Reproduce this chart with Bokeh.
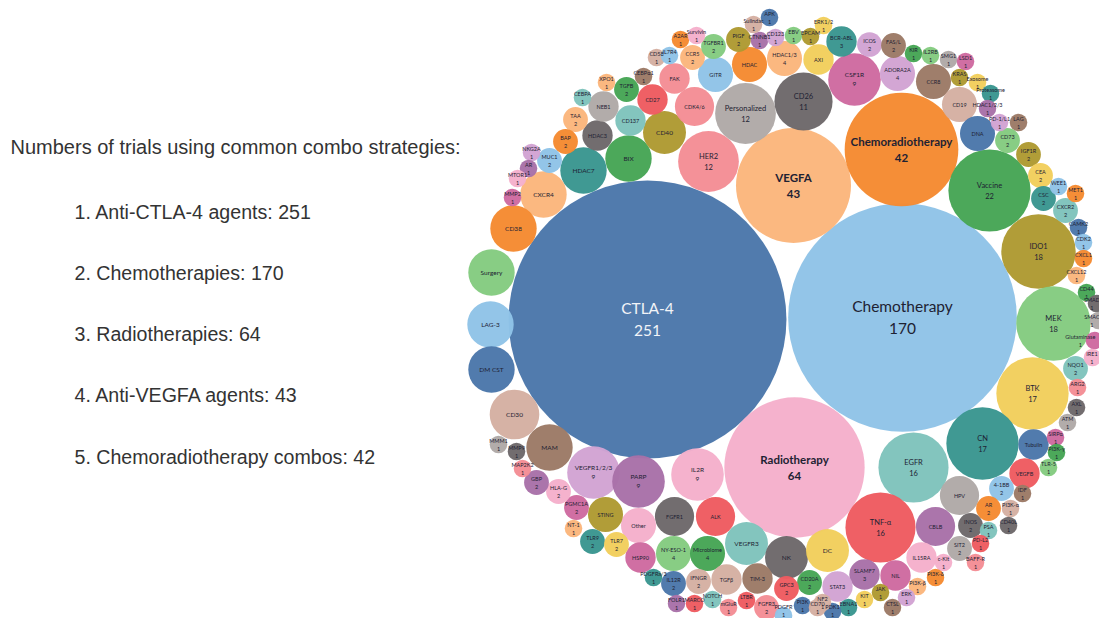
from bokeh.plotting import figure
from bokeh.models import ColumnDataSource, Range1d, Label
from bokeh.core.properties import value
from bokeh.embed import file_html
from bokeh.resources import INLINE
import math

heading = "Numbers of trials using common combo strategies:"
strategies = ["1. Anti-CTLA-4 agents: 251", "2. Chemotherapies: 170", "3. Radiotherapies: 64",
              "4. Anti-VEGFA agents: 43", "5. Chemoradiotherapy combos: 42"]
strategy_rows = [211, 272, 333, 394, 456]

palette = {"b": "#4B77AA", "lb": "#8FC3E7", "o": "#F58A31", "lo": "#FBB67C", "g": "#46A555",
           "lg": "#84CB80", "ol": "#AE9A32", "y": "#F2CE5C", "t": "#3A9690", "lt": "#7FC3BC",
           "r": "#EE5B60", "s": "#F48D95", "gy": "#6D686A", "lgy": "#B0A9A7", "m": "#CE6AA0",
           "p": "#F5AFCB", "pu": "#A871A8", "lpu": "#D2A3D3", "br": "#9C7A66", "lbr": "#D5AFA2"}

names = ["CTLA-4", "Chemotherapy", "Radiotherapy", "VEGFA", "Chemoradiotherapy", "HER2", "Personalized", "CD26", "Vaccine", "IDO1",
         "MEK", "BTK", "CN", "EGFR", "TNF-α", "VEGFR1/2/3", "PARP", "IL2R", "CSF1R", "CD30",
         "CXCR4", "CD38", "Surgery", "LAG-3", "DM CST", "MAM", "BIX", "HDAC7", "CD40", "VEGFR3",
         "NK", "DC", "FGFR1", "ALK", "HPV", "CBLB", "CDK4/6", "Other", "STING", "NY-ESO-1",
         "Microbiome", "ADORA2A", "CCR8", "CD19", "DNA", "HDAC", "HDAC1/3", "GITR", "FAK", "CD27",
         "CD137", "HDAC3", "NEB1", "AXI", "BCR-ABL", "HSP90", "TGFβ", "TIM-3", "SLAMF7", "NIL",
         "STAT3", "IL15RA", "Tubulin", "VEGFB", "ICOS", "FAS/L", "CCR5", "TGFBR1", "PIGF", "TGFB",
         "TAA", "BAP", "MUC1", "CD73", "IGF1R", "CEA", "CSC", "CXCR2", "NQO1", "4-1BB",
         "AR", "INOS", "SIT2", "CD20A", "GPC3", "FGFR3", "IFNGR", "IL12R", "TLR9", "TLR7",
         "PGMC1A", "HLA-G", "GBP", "XPO1", "CEBPA", "NKG2A", "AR", "MTOR1", "MMP2", "CD58",
         "CEBPα1", "IL7R4", "A2AR", "Survivin", "CTNNB1", "Sulindac", "APK", "CD123", "EBV", "EPCAM",
         "ERK1/2", "KIR", "IL2RB", "SMG1", "LSD1", "KRAS", "Exosome", "Proteasome", "HDAC1/2/3", "PD-1/L1",
         "LAG", "WEE1", "MET1", "CAMK2", "CDK2", "CXCL1", "CXCL12", "CD44", "SMAD", "Glutaminase",
         "IRE1", "ARG2", "AXL", "ATM", "SIRPα", "PI3K-γ", "TLR-5", "IDF", "PI3K-α", "CD40L",
         "PSA", "PD-L2", "BAFF-R", "c-Kit", "PI3K-δ", "PI3K-β", "JAK", "KIT", "ERK", "CTSL",
         "EBNA1", "PDK1", "NF2", "PI3K", "CD70", "PDGFR", "LTBR", "mGluR", "NOTCH", "MARCO",
         "FOLR1", "PDGFRa/3", "MAP2K2", "MMP9", "MMM1", "NT-1", "SMAC"]

counts = [251, 170, 64, 43, 42, 12, 12, 11, 22, 18,
          18, 17, 17, 16, 16, 9, 9, 9, 9, 8,
          7, 7, 7, 7, 7, 7, 7, 7, 6, 6,
          6, 6, 5, 5, 5, 5, 5, 4, 4, 4,
          4, 4, 4, 4, 4, 4, 4, 4, 3, 3,
          3, 3, 3, 3, 3, 3, 3, 3, 3, 3,
          3, 3, 3, 3, 2, 2, 2, 2, 2, 2,
          2, 2, 2, 2, 2, 2, 2, 2, 2, 2,
          2, 2, 2, 2, 2, 2, 2, 2, 2, 2,
          2, 2, 2, 1, 1, 1, 1, 1, 1, 1,
          1, 1, 1, 1, 1, 1, 1, 1, 1, 1,
          1, 1, 1, 1, 1, 1, 1, 1, 1, 1,
          1, 1, 1, 1, 1, 1, 1, 1, 1, 1,
          1, 1, 1, 1, 1, 1, 1, 1, 1, 1,
          1, 1, 1, 1, 1, 1, 1, 1, 1, 1,
          1, 1, 1, 1, 1, 1, 1, 1, 1, 1,
          1, 1, 1, 1, 1, 1, 1]

bubble_x = [647, 902, 794, 793, 901, 708, 745, 803, 989, 1038,
            1053, 1032, 982, 913, 880, 593, 638, 697, 854, 514,
            543, 513, 491, 490, 491, 549, 628, 583, 664, 746,
            786, 827, 674, 715, 959, 935, 694, 638, 605, 673,
            707, 897, 933, 959, 977, 749, 784, 715, 674, 652,
            630, 597, 603, 818, 841, 640, 726, 757, 864, 895,
            837, 921, 1033, 1024, 869, 893, 692, 713, 738, 626,
            575, 565, 549, 1007, 1028, 1040, 1043, 1065, 1075, 1001,
            988, 970, 959, 809, 786, 766, 698, 673, 592, 616,
            576, 558, 536, 606, 582, 531, 528, 517, 512, 656,
            643, 669, 680, 696, 759, 753, 769, 775, 793, 810,
            823, 913, 930, 948, 965, 959, 977, 990, 987, 999,
            1018, 1058, 1075, 1078, 1083, 1083, 1076, 1086, 1096, 1094,
            1092, 1077, 1076, 1067, 1055, 1056, 1048, 1022, 1010, 1008,
            988, 980, 975, 943, 935, 917, 880, 864, 906, 892,
            848, 832, 822, 802, 817, 783, 746, 728, 712, 694,
            676, 653, 522, 516, 498, 573, 1098]

bubble_y = [319, 317, 467, 185, 149, 161, 113, 101, 190, 251,
            323, 393, 443, 467, 527, 472, 481, 474, 79, 414,
            194, 228, 272, 324, 369, 447, 158, 170, 132, 543,
            557, 550, 516, 516, 495, 526, 106, 525, 514, 553,
            553, 73, 81, 104, 133, 64, 58, 74, 78, 99,
            120, 135, 106, 59, 41, 557, 579, 578, 574, 575,
            586, 557, 444, 473, 44, 45, 57, 46, 39, 89,
            119, 141, 160, 140, 154, 175, 198, 210, 368, 488,
            508, 525, 548, 582, 588, 607, 581, 583, 541, 544,
            507, 491, 482, 82, 97, 152, 168, 178, 197, 57,
            76, 55, 39, 35, 40, 24, 17, 37, 35, 36,
            25, 53, 55, 59, 61, 77, 82, 93, 108, 122,
            122, 186, 193, 227, 242, 258, 275, 292, 303, 340,
            357, 387, 407, 422, 437, 452, 467, 493, 508, 525,
            530, 543, 562, 562, 577, 586, 592, 599, 597, 607,
            607, 611, 602, 605, 607, 615, 600, 607, 599, 603,
            603, 577, 468, 451, 444, 528, 320]

bubble_color = ["b", "lb", "p", "lo", "o", "s", "lgy", "gy", "g", "ol",
                "lg", "y", "t", "lt", "r", "lpu", "pu", "p", "m", "lbr",
                "lo", "o", "lg", "lb", "b", "br", "g", "t", "ol", "lt",
                "gy", "y", "gy", "r", "lgy", "pu", "s", "p", "ol", "lg",
                "g", "lpu", "br", "lbr", "b", "o", "lo", "lb", "s", "r",
                "lt", "gy", "lgy", "y", "t", "m", "lbr", "br", "pu", "m",
                "lpu", "p", "b", "r", "lpu", "br", "lo", "lg", "ol", "g",
                "lo", "o", "lb", "lg", "ol", "y", "t", "lt", "lt", "lb",
                "o", "gy", "lgy", "g", "r", "s", "lbr", "b", "t", "y",
                "m", "p", "pu", "lo", "lt", "lpu", "pu", "p", "m", "lbr",
                "br", "lb", "o", "p", "pu", "lbr", "b", "lpu", "lg", "ol",
                "y", "g", "lg", "lgy", "m", "ol", "y", "t", "pu", "lpu",
                "br", "lb", "o", "b", "lb", "o", "lo", "g", "gy", "m",
                "p", "s", "gy", "lgy", "m", "g", "lg", "br", "lbr", "gy",
                "lt", "r", "s", "p", "o", "lo", "ol", "y", "lpu", "br",
                "t", "b", "lbr", "b", "lbr", "lb", "r", "s", "lt", "r",
                "pu", "t", "s", "gy", "lgy", "lo", "lgy"]

no_number = {"FAK", "CD27", "CD137", "HDAC3", "NEB1", "CD40", "HDAC7", "BIX", "CXCR4", "CD38", "Surgery",
             "LAG-3", "DM CST", "CD30", "MAM", "Other", "STING", "FGFR1", "ALK", "VEGFR3", "HSP90", "NK",
             "DC", "HPV", "CBLB", "IL15RA", "NIL", "STAT3", "TGFβ", "TIM-3", "GITR", "HDAC", "AXI", "CCR8",
             "CD19", "DNA", "Tubulin", "VEGFB", "CDK4/6"}

assert len(names) == len(counts) == len(bubble_x) == len(bubble_y) == len(bubble_color)

RADIUS_PER_SQRT = 8.77
W, H = 1099, 618


def font_px(c):
    if c >= 170:
        return 15.5
    if c >= 40:
        return 11.5
    if c >= 11:
        return 7.5
    if c >= 6:
        return 6.5
    return 5.5


radii = [RADIUS_PER_SQRT * math.sqrt(c) for c in counts]
sizes = [f"{font_px(c)}px" for c in counts]
text_col = ["#F2F4F8" if n == "CTLA-4" else "#1E2233" for n in names]
font_style = ["bold" if 40 <= c < 100 else "normal" for c in counts]
has_num = [n not in no_number for n in names]
gap = [max(font_px(c) * 0.72, 4) for c in counts]

# labels of bubbles cut by the image edge are nudged so their text stays on the page
label_dx = [min(0.0, W - 1 - (x + 0.3 * font_px(c) * len(n))) for n, c, x in zip(names, counts, bubble_x)]
label_dy = [min(0.0, H - 4 - (y + g)) for y, g in zip(bubble_y, gap)]

source = ColumnDataSource(dict(
    x=bubble_x, y=bubble_y, r=radii, fill=[palette[k] for k in bubble_color],
    name=names, num=[str(c) if h else "" for c, h in zip(counts, has_num)],
    size=sizes, tc=text_col, fstyle=font_style, dx=label_dx,
    name_off=[dy - g if h else dy for g, h, dy in zip(gap, has_num, label_dy)],
    num_off=[dy + g for g, dy in zip(gap, label_dy)],
))

p = figure(width=W, height=H, x_range=Range1d(0, W), y_range=Range1d(H, 0),
           output_backend="svg", toolbar_location=None, x_axis_type=None, y_axis_type=None,
           min_border=0, outline_line_color=None, background_fill_color="white")
p.grid.visible = False

p.circle("x", "y", radius="r", source=source, fill_color="fill", line_color=None, fill_alpha=0.97)
for col, off in (("name", "name_off"), ("num", "num_off")):
    p.text("x", "y", text=col, source=source, text_font=value("Lato"), text_font_size="size",
           text_font_style="fstyle", text_color="tc", text_align="center", text_baseline="middle",
           x_offset="dx", y_offset=off)

p.add_layout(Label(x=10, y=146, text=heading, text_font="Liberation Sans", text_font_size="20px",
                   text_color="#333333", text_baseline="middle"))
for row, s in zip(strategy_rows, strategies):
    p.add_layout(Label(x=74, y=row, text=s, text_font="Liberation Sans", text_font_size="19.6px",
                       text_color="#333333", text_baseline="middle"))

open("out.html", "w").write(file_html(p, INLINE))
